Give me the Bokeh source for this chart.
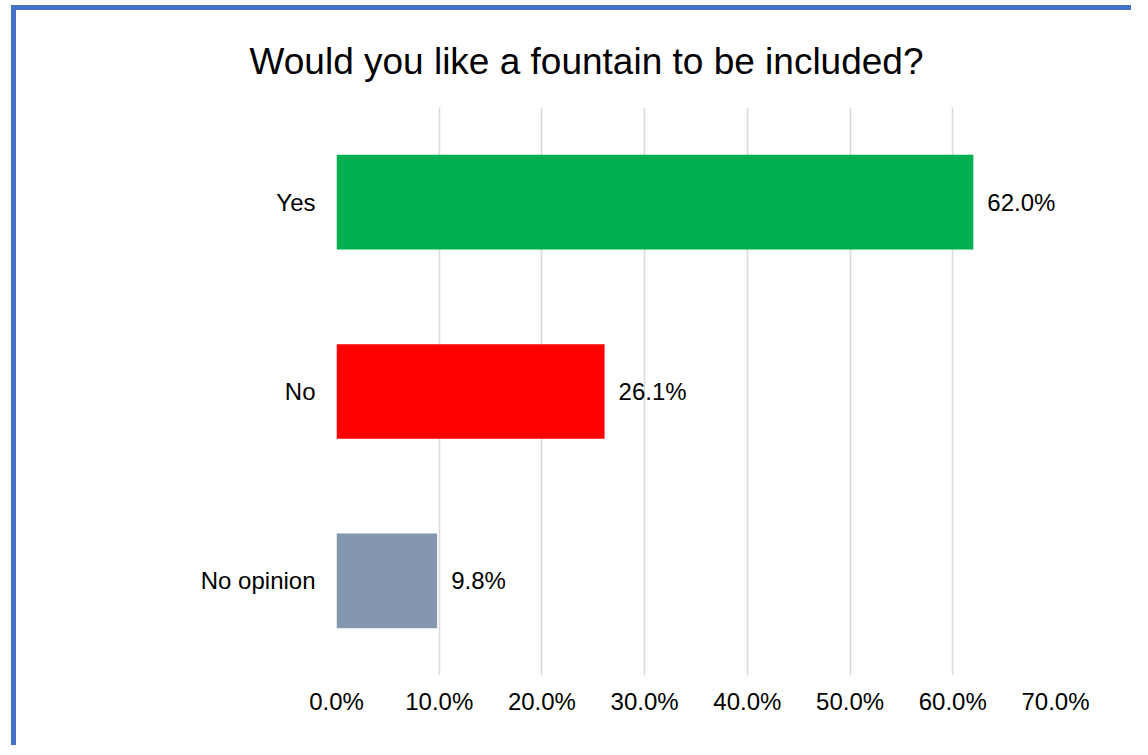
from bokeh.plotting import figure
from bokeh.models import ColumnDataSource, FactorRange, FixedTicker, PrintfTickFormatter, LabelSet, Title
from bokeh.core.properties import value
from bokeh.embed import file_html
from bokeh.resources import INLINE

categories = ["No opinion", "No", "Yes"]
percentages = [9.8, 26.1, 62.0]
bar_colors = ["#8497B0", "#FF0000", "#00B050"]
label_texts = ["9.8%", "26.1%", "62.0%"]
x_ticks = [0, 10, 20, 30, 40, 50, 60, 70]
title_text = "Would you like a fountain to be included?"

FONT = "Liberation Sans"

src = ColumnDataSource(dict(cat=categories, val=percentages, color=bar_colors, lab=label_texts))

p = figure(
    width=1120, height=740,
    y_range=FactorRange(*categories, range_padding=0),
    x_range=(0, 70),
    output_backend="svg", toolbar_location=None,
    min_border_left=320, min_border_right=81, min_border_top=97, min_border_bottom=75,
    styles={"border-left": "5px solid #4472C4", "border-top": "5px solid #4472C4",
            "margin-left": "11px", "margin-top": "5px"},
)
p.outline_line_color = None
p.background_fill_color = "white"
p.border_fill_color = "white"

p.hbar(y="cat", right="val", left=0, height=0.5, color="color", line_color=None, source=src)

labels = LabelSet(x="val", y="cat", text="lab", source=src, x_offset=14,
                  text_baseline="middle", text_align="left",
                  text_font=value(FONT), text_font_size="24px", text_color="#000000")
p.add_layout(labels)

t = Title(text=title_text, align="left", offset=-87, text_font=FONT,
          text_font_size="37px", text_font_style="normal", text_color="#000000",
          standoff=52)
p.add_layout(t, "above")

p.xaxis.ticker = FixedTicker(ticks=x_ticks)
p.xaxis.formatter = PrintfTickFormatter(format="%.1f%%")
for ax in (p.xaxis[0], p.yaxis[0]):
    ax.axis_line_color = None
    ax.major_tick_line_color = None
    ax.minor_tick_line_color = None
    ax.major_label_text_font = FONT
    ax.major_label_text_font_size = "24px"
    ax.major_label_text_color = "#000000"
p.xaxis.major_label_standoff = 6
p.yaxis.major_label_standoff = 15

p.xgrid.grid_line_color = "#D9D9D9"
p.xgrid.grid_line_width = 1.5
p.ygrid.grid_line_color = None

open("out.html", "w").write(file_html(p, INLINE))
